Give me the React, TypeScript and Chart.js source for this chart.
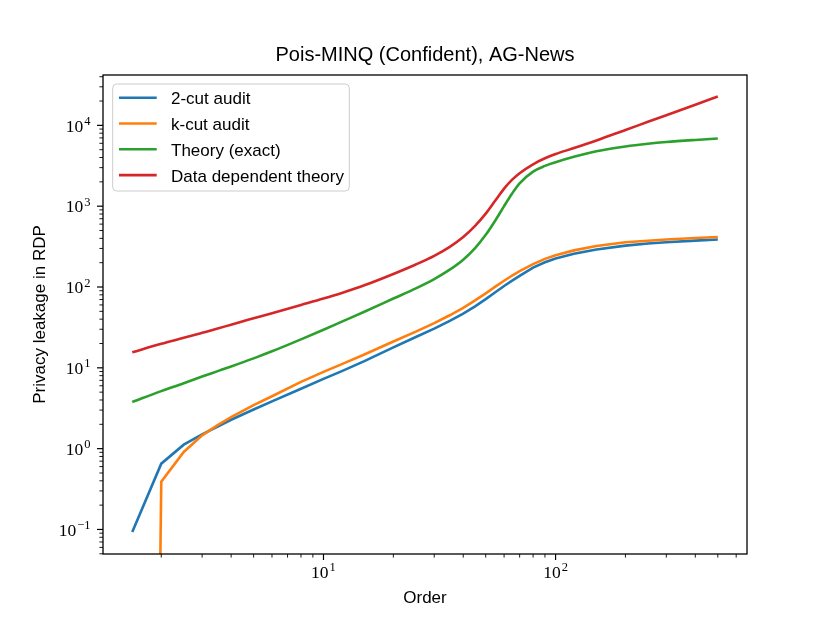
import React, { useEffect, useRef } from "react";
import { Chart, registerables } from "chart.js";

Chart.register(...registerables);

// ---------- data ----------
const ORDERS = [1.5, 2, 2.5, 3, 3.5, 4, 5, 6, 8, 10, 12, 15, 20, 25, 30, 35, 40, 45, 50, 55, 60, 65, 70, 80, 90, 100, 120, 150, 200, 250, 300, 400, 500];

const AUDIT_2CUT = [0.093, 0.652, 1.12, 1.5, 1.88, 2.28, 3.05, 3.85, 5.5, 7.3, 9.1, 12.1, 17.9, 24.1, 30.6, 38.1, 46.9, 57.6, 70.7, 86, 102.8, 120, 137.4, 173.5, 202, 225, 258, 291, 325, 345, 358, 375, 387];

const AUDIT_KCUT = [0, 0.39, 0.91, 1.46, 1.95, 2.45, 3.45, 4.45, 6.7, 8.9, 11.1, 14.6, 21.2, 28.0, 35.7, 44.7, 55.3, 68.2, 83.5, 100.9, 119.6, 138.7, 157.3, 192.2, 222.8, 247.5, 284, 321, 358, 374, 387, 404, 416];

const THEORY_EXACT = [3.78, 5.15, 6.45, 7.8, 9.1, 10.4, 13.1, 16.0, 22.5, 29.6, 37.3, 49.5, 72, 96.3, 125.5, 164, 218, 303, 442, 666, 1002, 1437, 1918, 2678, 3150, 3500, 4080, 4780, 5480, 5920, 6220, 6600, 6870];

const DATA_DEP_THEORY = [15.6, 19.8, 23.5, 27.1, 30.6, 34.2, 41, 47.5, 60, 72, 84.5, 105, 145, 190, 243, 314, 416, 571, 809, 1173, 1647, 2128, 2562, 3302, 3917, 4422, 5232, 6500, 8770, 11060, 13370, 18040, 22750];

const SERIES_LABELS = ["2-cut audit", "k-cut audit", "Theory (exact)", "Data dependent theory"];
const SERIES_COLORS = ["#1f77b4", "#ff7f0e", "#2ca02c", "#d62728"];
const SERIES_SMOOTH = [false, false, true, true];

const X_MAJOR_TICKS = [10, 100];
const Y_MAJOR_TICKS = [0.1, 1, 10, 100, 1000, 10000];

const TITLE = "Pois-MINQ (Confident), AG-News";
const X_LABEL = "Order";
const Y_LABEL = "Privacy leakage in RDP";

const X_MIN = 1.122;
const X_MAX = 668;
const Y_MIN = 0.0497;
const Y_MAX = 42000;

// ---------- styling ----------
const SANS = '"Liberation Sans", Arial, sans-serif';
const SERIF = '"Liberation Serif", "Times New Roman", serif';
const LINE_W = 2.6;

// matplotlib clips non-positive values on log axes to a tiny number
const clipLog = (v: number) => (v > 0 ? v : 1e-30);

function expText(v: number) {
  const e = Math.round(Math.log10(v));
  return String(e).replace("-", "\u2212");
}

const decorPlugin = {
  id: "decor",
  afterDraw(chart: any) {
    const { ctx, chartArea: a, scales } = chart;
    const xs = scales.x;
    const ys = scales.y;
    ctx.save();

    ctx.strokeStyle = "#000";
    const eachLogTick = (min: number, max: number, cb: (v: number, major: boolean) => void) => {
      const d0 = Math.floor(Math.log10(min));
      const d1 = Math.ceil(Math.log10(max));
      for (let d = d0; d <= d1; d++) {
        for (let m = 1; m <= 9; m++) {
          const v = m * Math.pow(10, d);
          if (v >= min * 0.9999 && v <= max * 1.0001) cb(v, m === 1);
        }
      }
    };
    eachLogTick(X_MIN, X_MAX, (v, major) => {
      const px = xs.getPixelForValue(v);
      ctx.lineWidth = major ? 1.2 : 0.9;
      ctx.beginPath();
      ctx.moveTo(px, a.bottom);
      ctx.lineTo(px, a.bottom + (major ? 6 : 3.6));
      ctx.stroke();
    });
    eachLogTick(Y_MIN, Y_MAX, (v, major) => {
      const py = ys.getPixelForValue(v);
      ctx.lineWidth = major ? 1.2 : 0.9;
      ctx.beginPath();
      ctx.moveTo(a.left, py);
      ctx.lineTo(a.left - (major ? 6 : 3.6), py);
      ctx.stroke();
    });

    ctx.lineWidth = 1.3;
    ctx.strokeRect(a.left, a.top, a.right - a.left, a.bottom - a.top);

    const baseFont = "17.5px " + SERIF;
    const expFont = "12.5px " + SERIF;
    ctx.fillStyle = "#000";
    ctx.textBaseline = "alphabetic";
    Y_MAJOR_TICKS.forEach((v) => {
      const py = ys.getPixelForValue(v);
      const e = expText(v);
      ctx.font = expFont;
      const ew = ctx.measureText(e).width;
      ctx.font = baseFont;
      const bw = ctx.measureText("10").width;
      const right = a.left - 12.5;
      ctx.textAlign = "left";
      ctx.fillText("10", right - ew - bw - 1, py + 6.3);
      ctx.font = expFont;
      ctx.fillText(e, right - ew, py - 0.5);
    });
    X_MAJOR_TICKS.forEach((v) => {
      const px = xs.getPixelForValue(v);
      const e = expText(v);
      ctx.font = expFont;
      const ew = ctx.measureText(e).width;
      ctx.font = baseFont;
      const bw = ctx.measureText("10").width;
      const left = px - (bw + ew + 1) / 2;
      ctx.textAlign = "left";
      ctx.fillText("10", left, a.bottom + 24);
      ctx.font = expFont;
      ctx.fillText(e, left + bw + 1, a.bottom + 17.3);
    });

    const cx = (a.left + a.right) / 2;
    const cy = (a.top + a.bottom) / 2;
    ctx.font = "17px " + SANS;
    ctx.textAlign = "center";
    ctx.fillText(X_LABEL, cx, 603);
    ctx.save();
    ctx.translate(44.5, cy);
    ctx.rotate(-Math.PI / 2);
    ctx.fillText(Y_LABEL, 0, 0);
    ctx.restore();

    ctx.font = "20px " + SANS;
    ctx.fillText(TITLE, cx, 61);

    const lx = 112.7, ly = 84, lw = 236.6, lh = 107, r = 4;
    ctx.beginPath();
    ctx.moveTo(lx + r, ly);
    ctx.lineTo(lx + lw - r, ly);
    ctx.quadraticCurveTo(lx + lw, ly, lx + lw, ly + r);
    ctx.lineTo(lx + lw, ly + lh - r);
    ctx.quadraticCurveTo(lx + lw, ly + lh, lx + lw - r, ly + lh);
    ctx.lineTo(lx + r, ly + lh);
    ctx.quadraticCurveTo(lx, ly + lh, lx, ly + lh - r);
    ctx.lineTo(lx, ly + r);
    ctx.quadraticCurveTo(lx, ly, lx + r, ly);
    ctx.closePath();
    ctx.fillStyle = "rgba(255,255,255,0.8)";
    ctx.fill();
    ctx.strokeStyle = "#cccccc";
    ctx.lineWidth = 1;
    ctx.stroke();

    ctx.font = "17px " + SANS;
    ctx.textAlign = "left";
    SERIES_LABELS.forEach((lab, i) => {
      const ry = 97.7 + i * 25.8;
      ctx.strokeStyle = SERIES_COLORS[i];
      ctx.lineWidth = LINE_W;
      ctx.beginPath();
      ctx.moveTo(119, ry);
      ctx.lineTo(156.7, ry);
      ctx.stroke();
      ctx.fillStyle = "#000";
      ctx.fillText(lab, 171, ry + 6.5);
    });

    ctx.restore();
  },
};

export default function App() {
  const canvasRef = useRef<HTMLCanvasElement | null>(null);

  useEffect(() => {
    if (!canvasRef.current) return;
    const series = [AUDIT_2CUT, AUDIT_KCUT, THEORY_EXACT, DATA_DEP_THEORY];
    const chart = new Chart(canvasRef.current, {
      type: "line",
      data: {
        datasets: series.map((vals, i) => ({
          label: SERIES_LABELS[i],
          data: ORDERS.map((o, j) => ({ x: o, y: clipLog(vals[j]) })),
          borderColor: SERIES_COLORS[i],
          backgroundColor: SERIES_COLORS[i],
          borderWidth: LINE_W,
          pointRadius: 0,
          tension: SERIES_SMOOTH[i] ? 0.4 : 0,
          cubicInterpolationMode: SERIES_SMOOTH[i] ? "monotone" : "default",
          fill: false,
          order: 3 - i,
        })),
      },
      options: {
        responsive: false,
        animation: false,
        events: [],
        layout: { padding: { left: 103, top: 75, right: 83, bottom: 69 } },
        plugins: {
          legend: { display: false },
          title: { display: false },
          tooltip: { enabled: false },
        },
        scales: {
          x: { type: "logarithmic", min: X_MIN, max: X_MAX, display: false },
          y: { type: "logarithmic", min: Y_MIN, max: Y_MAX, display: false },
        },
      },
      plugins: [decorPlugin],
    });
    return () => chart.destroy();
  }, []);

  return (
    <div style={{ position: "fixed", left: 0, top: 0, width: 830, height: 623, background: "#fff" }}>
      <canvas ref={canvasRef} width={830} height={623} style={{ display: "block" }} />
    </div>
  );
}
